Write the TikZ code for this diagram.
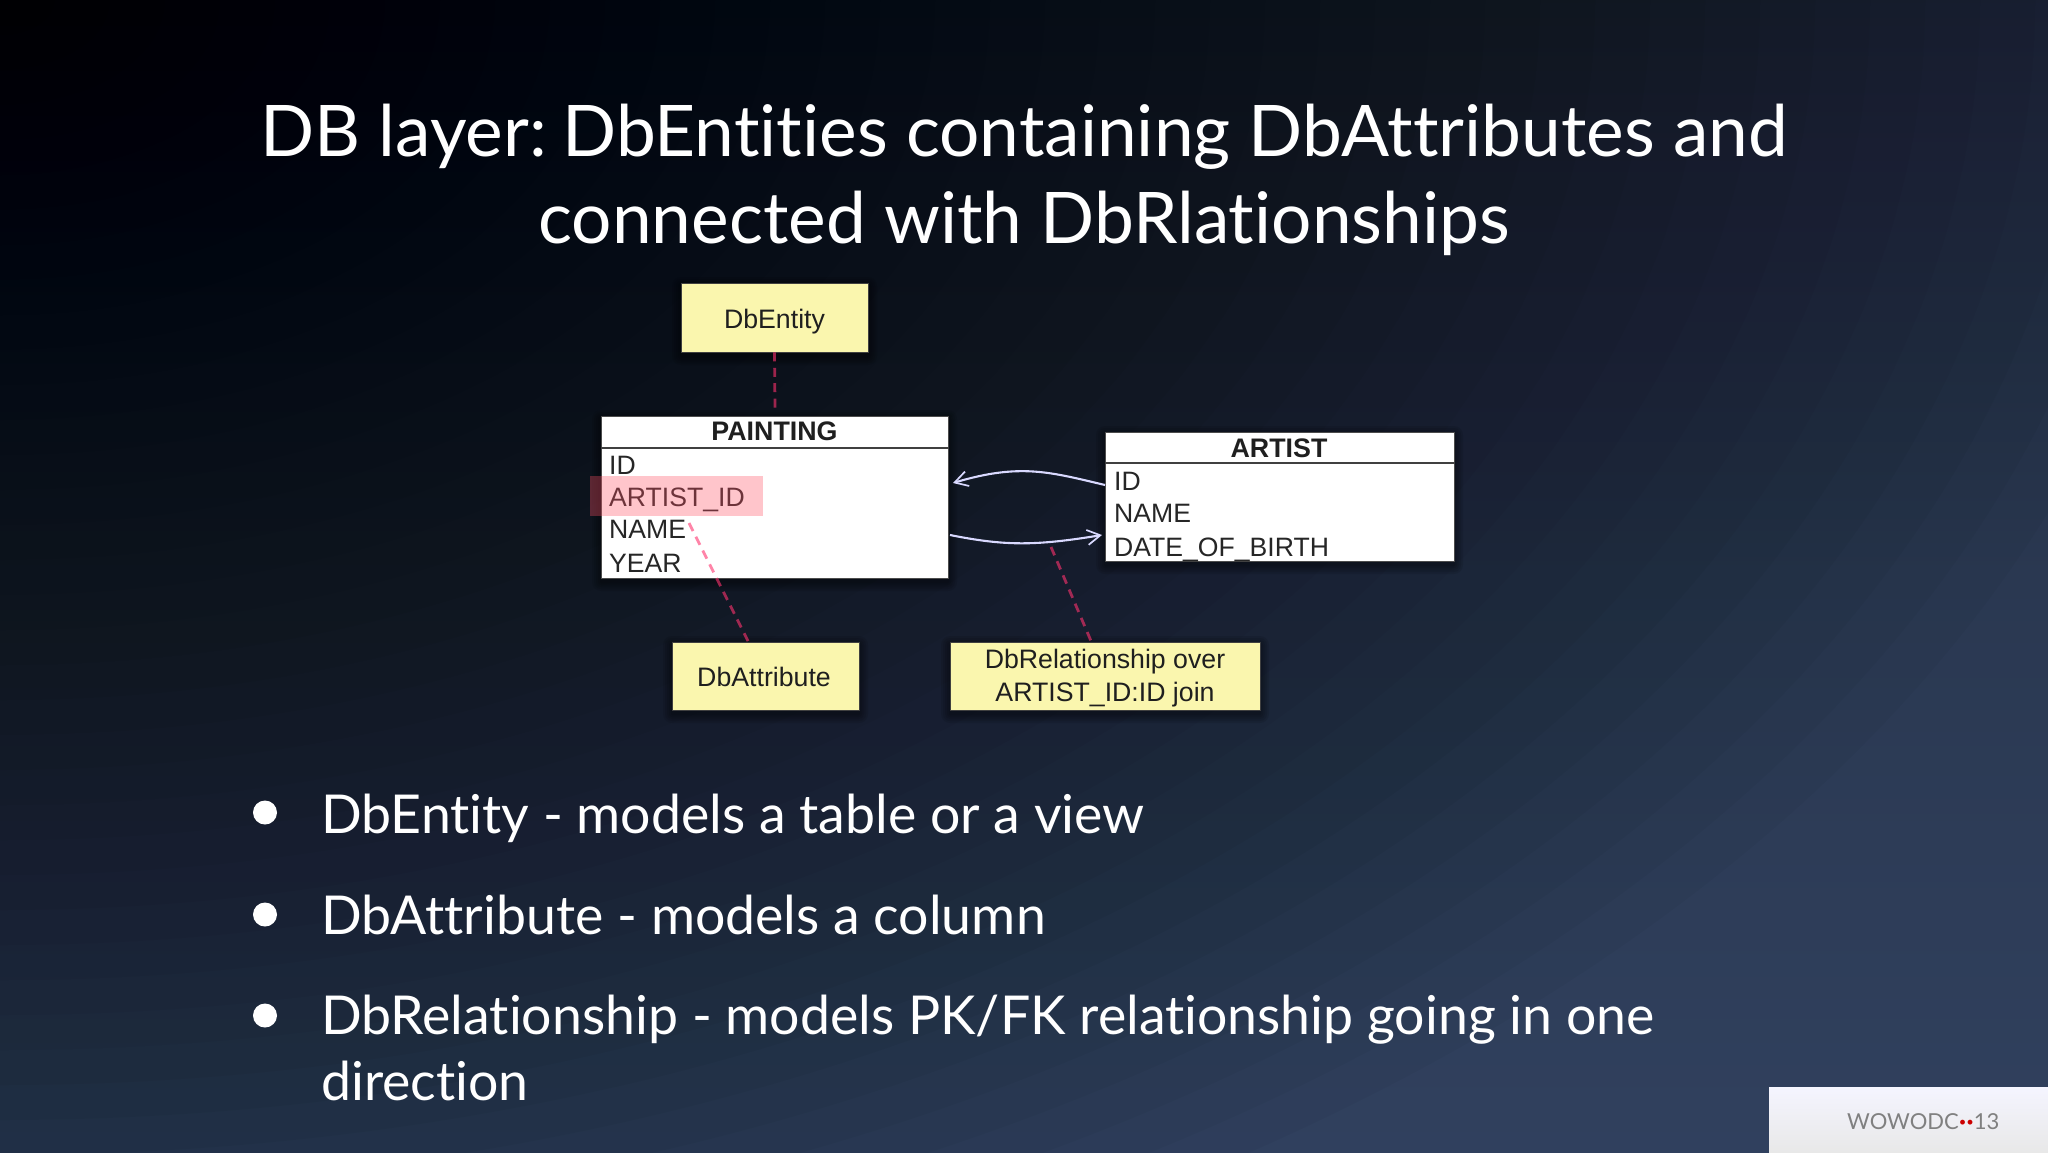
\documentclass[tikz,border=0pt]{standalone}
\usepackage{fontspec}
\setmainfont{Lato}[Ligatures=NoCommon]
\newfontfamily\diag{Liberation Sans}
\usetikzlibrary{arrows.meta}
\definecolor{bgA}{HTML}{000000}
\definecolor{bgB}{HTML}{151D2D}
\definecolor{bgC}{HTML}{2A3851}
\definecolor{bgD}{HTML}{37496B}
\definecolor{notefill}{HTML}{FAF6AE}
\definecolor{pinkline}{RGB}{255,50,110}
\definecolor{hilite}{RGB}{255,80,100}
\pgfdeclareverticalshading{bgv}{100bp}{color(0bp)=(bgD); color(50bp)=(bgC); color(85bp)=(bgB); color(100bp)=(bgA)}
\newcommand{\softshadow}[4]{%
  \foreach \g in {9,7,5,3,1}{\fill[black,opacity=.09,rounded corners=\g pt] (#1-\g,#2+3-\g) rectangle (#3+\g,#4+4+\g);}}
\tikzset{
  notebox/.style={draw=black!75,line width=.8pt,fill=notefill,inner sep=0pt,align=center,font=\diag\fontsize{26.7}{33.5}\selectfont,text=black!88,minimum height=68pt},
  tablebox/.style={draw=black!70,line width=1pt,fill=white,inner sep=0pt},
  headtext/.style={font=\diag\bfseries\fontsize{26.8}{30}\selectfont,text=black!88,inner sep=0pt,anchor=base},
  rowtext/.style={font=\diag\fontsize{26.6}{30}\selectfont,text=black!85,inner sep=0pt,anchor=base west},
  pinkdash/.style={draw=pinkline,opacity=.6,line width=2.8pt,dash pattern=on 9pt off 6.4pt},
  whitearrow/.style={draw=white!85!blue,line width=2.1pt,-{Straight Barb[length=13pt,width=15pt,line width=1.7pt]}},
  titletext/.style={font=\fontsize{71.2}{70}\selectfont,text=white,inner sep=0pt,anchor=base},
  bullettext/.style={font=\fontsize{53.6}{50}\selectfont,text=white,inner sep=0pt,anchor=base west},
  bulletdot/.style={circle,fill=white,draw=none,minimum size=24pt,inner sep=0pt},
}
\begin{document}
\begin{tikzpicture}[x=1pt,y=-1pt]
\useasboundingbox (0,0) rectangle (2048,1152);
\begin{scope}
\clip (0,0) rectangle (2048,1152);
\shade[shading=bgv] (-2,-2) rectangle (2050,1154);
\foreach \k in {1,...,40}{\fill[black,opacity=.03] (0,0) ellipse [x radius=\k*55pt,y radius=\k*35pt];}
\end{scope}

% title
\node[titletext] (title1) at (1024,156.5) {DB layer:\hspace{-9pt} DbEntities containing DbAttributes and};
\node[titletext] (title2) at (1024,243.5) {connected with DbRlationships};

% shadows
\softshadow{681}{283}{868}{352}
\softshadow{601}{416}{948}{578}
\softshadow{1105}{432}{1454}{561}
\softshadow{672}{642}{859}{710}
\softshadow{950}{642}{1260}{710}

% notes
\node[notebox,minimum width=187pt,minimum height=69pt,text depth=0pt] (entity) at (774.5,317.5) {\raisebox{-3pt}{DbEntity}};
\node[notebox,minimum width=187pt] (attr) at (765.5,676) {\hspace{-3pt}\raisebox{-1pt}[\height][\depth]{DbAttribute}};
\node[notebox,minimum width=310pt] (rel) at (1105,676) {\raisebox{-2.5pt}[\height][\depth]{\begin{tabular}{@{}c@{}}DbRelationship over\\[-.5pt]ARTIST\_ID:ID join\end{tabular}}};

% PAINTING table
\node[tablebox,minimum width=347pt,minimum height=162pt] (painting) at (774.5,497) {};
\draw[black!75,line width=1.6pt] (painting.west |- 0,448) coordinate (pl) -- (painting.east |- 0,448) coordinate (pr);
\node[headtext] (ph) at (774.5,440.5) {PAINTING};
\node[rowtext] (p1) at (609,474) {ID};
\node[rowtext] (p2) at (609,506) {ARTIST\_ID};
\node[rowtext] (p3) at (609,538) {NAME};
\node[rowtext] (p4) at (609,572) {YEAR};
\fill[hilite,opacity=.33] (590,476) rectangle (763,516);

% ARTIST table
\node[tablebox,minimum width=349pt,minimum height=129pt] (artist) at (1279.5,496.5) {};
\draw[black!75,line width=1.6pt] (artist.west |- 0,463) coordinate (al) -- (artist.east |- 0,463) coordinate (ar);
\node[headtext] (ah) at (1279,457) {ARTIST};
\node[rowtext] (a1) at (1114,490) {ID};
\node[rowtext] (a2) at (1114,522) {NAME};
\node[rowtext] (a3) at (1114,556) {DATE\_OF\_BIRTH};

% connectors
\coordinate (dashA) at (775,409);
\coordinate (attrA) at (689,523);
\coordinate (attrB) at (748,641);
\coordinate (relA) at (1051,547);
\coordinate (relB) at (1091,641);
\draw[pinkdash] (entity.south) -- (dashA);
\draw[pinkdash] (attrA) -- (attrB);
\draw[pinkdash] (relA) -- (relB);
\coordinate (artOut) at (1105,485);
\coordinate (artIn) at (1102,535);
\coordinate (paintIn) at (953,483);
\coordinate (paintOut) at (950,535);
\draw[whitearrow] (artOut) .. controls (1050,472) and (1020,463) .. (paintIn);
\draw[whitearrow] (paintOut) .. controls (1005,546) and (1035,546) .. (artIn);

% bullets
\node[bulletdot] (b1) at (265,812.5) {};
\node[bulletdot] (b2) at (265,914.5) {};
\node[bulletdot] (b3) at (265,1015.5) {};
\node[bullettext] (t1) at (321,833) {DbEntity - models a table or a view};
\node[bullettext] (t2) at (321,934) {DbAttribute - models a column};
\node[bullettext] (t3) at (321,1034) {DbRelationship - models PK/FK relationship going in one};
\node[bullettext] (t4) at (321,1100) {direction};

% footer
\shade[top color=white!96!blue,bottom color=white!91!black] (1769,1087) rectangle (2048,1152);
\node[font=\fontsize{22}{22}\selectfont,text=black!50,inner sep=0pt,anchor=base west] (wow) at (1847,1129) {WOWODC\raisebox{3pt}{\fontsize{13}{13}\selectfont\textcolor{red!80!black}{••}}13};
\end{tikzpicture}
\end{document}
